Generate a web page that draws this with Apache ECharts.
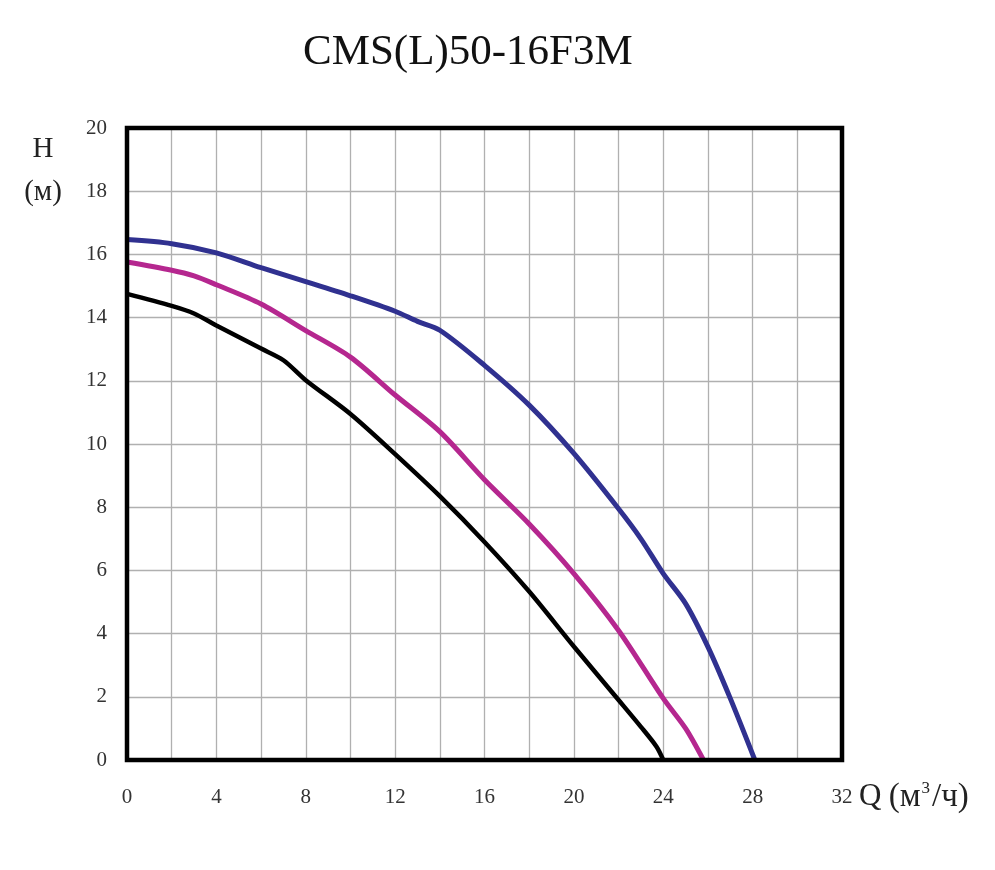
<!DOCTYPE html>
<html>
<head>
<meta charset="utf-8">
<script src="https://cdn.jsdelivr.net/npm/echarts@6/dist/echarts.min.js"></script>
<style>
html,body{margin:0;padding:0;background:#fff;}
#c{width:995px;height:870px;}
</style>
</head>
<body>
<div id="c"></div>
<script>
const titleText = 'CMS(L)50-16F3M';
const xTicks = [0, 4, 8, 12, 16, 20, 24, 28, 32];
const yTicks = [0, 2, 4, 6, 8, 10, 12, 14, 16, 18, 20];

const qBlue = [0, 2, 4, 6, 8, 10, 12, 13, 14, 16, 18, 20, 22, 23, 24, 25, 26, 27, 28.1];
const hBlue = [16.47, 16.34, 16.05, 15.58, 15.14, 14.69, 14.2, 13.88, 13.6, 12.49, 11.23, 9.7, 7.95, 7.0, 5.9, 4.95, 3.58, 1.95, 0];

const qPink = [0, 2, 3, 4, 6, 8, 10, 12, 14, 16, 18, 20, 22, 24, 25, 25.8];
const hPink = [15.76, 15.5, 15.32, 15.04, 14.43, 13.59, 12.75, 11.55, 10.39, 8.87, 7.47, 5.9, 4.1, 1.95, 1.0, 0];

const qBlack = [0, 2, 3, 4, 6, 7, 8, 10, 12, 14, 16, 18, 20, 22, 23, 23.7, 24];
const hBlack = [14.75, 14.37, 14.13, 13.75, 13.02, 12.65, 12.02, 10.95, 9.68, 8.35, 6.9, 5.33, 3.59, 1.9, 1.05, 0.42, 0];

const zip = (xs, ys) => xs.map((x, i) => [x, ys[i]]);
const serif = "'Liberation Serif', 'DejaVu Serif', serif";

const chart = echarts.init(document.getElementById('c'));
chart.setOption({
  animation: false,
  backgroundColor: '#fff',
  grid: {
    left: 127, right: 153, top: 128, bottom: 110,
    show: true, borderColor: '#000', borderWidth: 4.5, backgroundColor: 'transparent', z: 10
  },
  xAxis: {
    type: 'value', min: 0, max: 32, interval: 2,
    axisLine: { show: false },
    axisTick: { show: false },
    axisLabel: {
      margin: 27, color: '#333', fontFamily: serif, fontSize: 21,
      formatter: v => (xTicks.indexOf(v) >= 0 ? String(v) : '')
    },
    splitLine: { show: true, lineStyle: { color: '#b0b0b0', width: 1.3 } }
  },
  yAxis: {
    type: 'value', min: 0, max: 20, interval: 2,
    axisLine: { show: false },
    axisTick: { show: false },
    axisLabel: {
      margin: 20, color: '#333', fontFamily: serif, fontSize: 21,
      formatter: v => (yTicks.indexOf(v) >= 0 ? String(v) : '')
    },
    splitLine: { show: true, lineStyle: { color: '#b0b0b0', width: 1.3 } }
  },
  graphic: [
    { type: 'text', left: 303, top: 31, style: { text: titleText, font: '43px ' + serif, fill: '#111' } },
    { type: 'text', x: 43, y: 149, style: { text: 'H', font: '29px ' + serif, fill: '#222', align: 'center', verticalAlign: 'middle' } },
    { type: 'text', x: 43, y: 192, style: { text: '(м)', font: '29px ' + serif, fill: '#222', align: 'center', verticalAlign: 'middle' } },
    { type: 'text', x: 859, y: 797, style: {
        text: '{q|Q} {n|(м}{s|3}{n|/ч)}', align: 'left', verticalAlign: 'middle',
        rich: {
          q: { fontFamily: serif, fontSize: 31, fill: '#222', padding: [0, 4, 0, 0] },
          n: { fontFamily: serif, fontSize: 33, fill: '#222' },
          s: { fontFamily: serif, fontSize: 17, fill: '#222', verticalAlign: 'top', padding: [0, 2, 15, 1] }
        }
      } }
  ],
  series: [
    { type: 'line', data: zip(qBlack, hBlack), smooth: 0.3, symbol: 'none', lineStyle: { color: '#000', width: 4.5 } },
    { type: 'line', data: zip(qPink, hPink), smooth: 0.3, symbol: 'none', lineStyle: { color: '#b5278f', width: 5 } },
    { type: 'line', data: zip(qBlue, hBlue), smooth: 0.3, symbol: 'none', lineStyle: { color: '#303190', width: 5 } }
  ]
});
</script>
</body>
</html>
